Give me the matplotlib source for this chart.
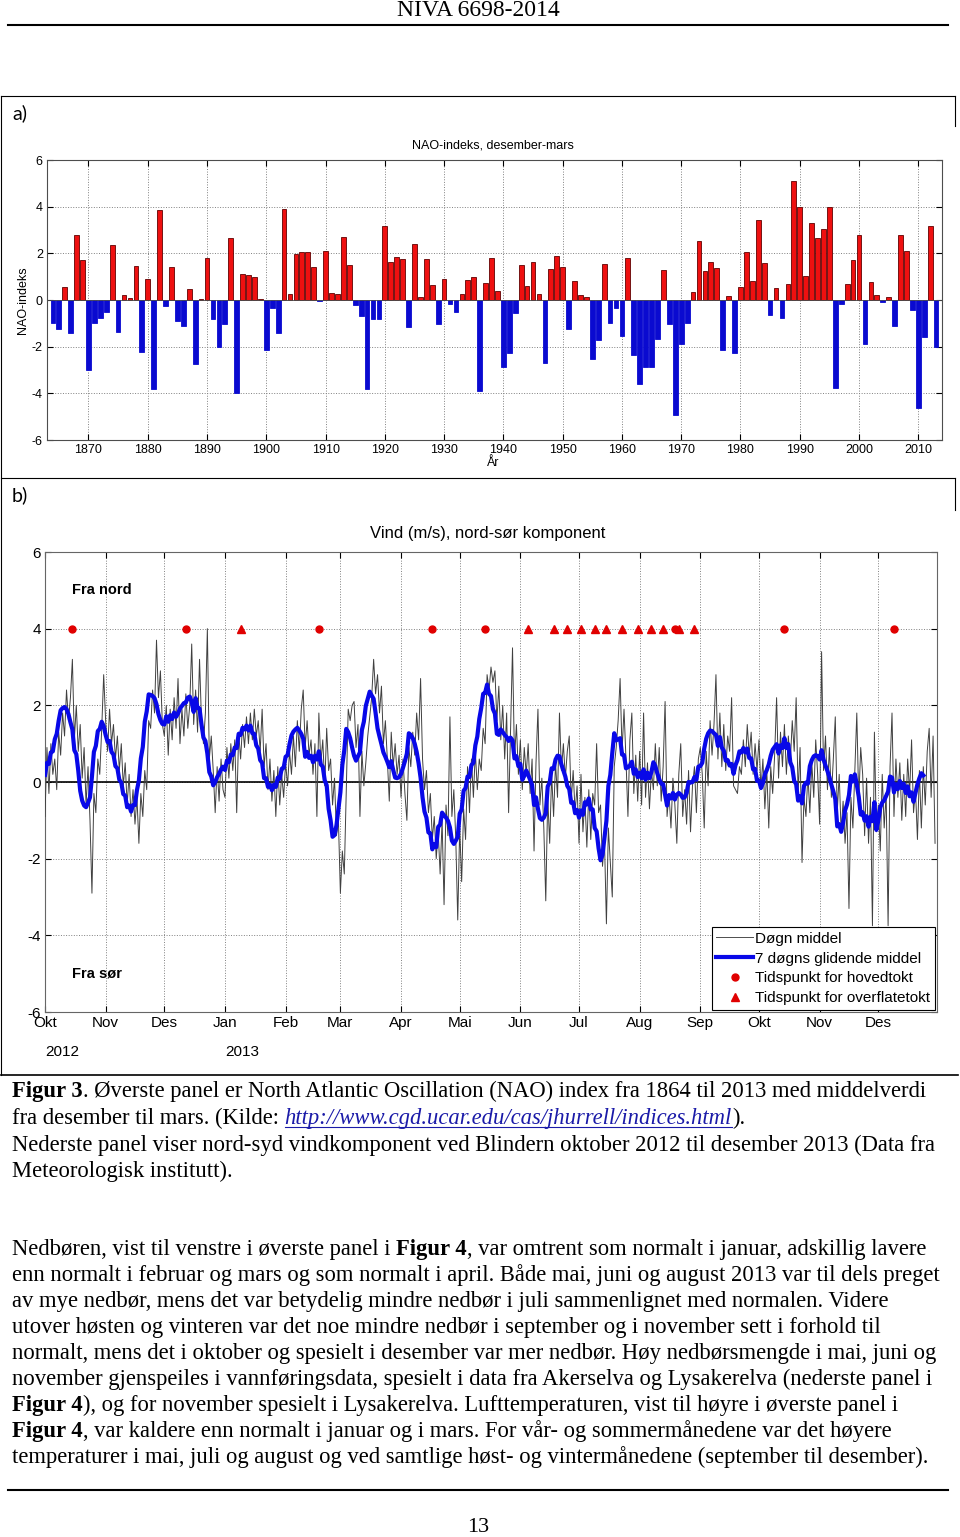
import numpy as np
import pandas as pd
import matplotlib
matplotlib.use("Agg")
import matplotlib.pyplot as plt
import matplotlib.dates as mdates
from matplotlib.lines import Line2D

W, H = 960, 1537
SANS = "Liberation Sans"
SERIF = "Liberation Serif"
plt.rcParams["font.family"] = [SANS, "DejaVu Sans"]
plt.rcParams["axes.unicode_minus"] = False

# ---------------- data: NAO index (Dec-Mar), 1864-2013 ----------
NAO_START = 1864
nao = [-1.0, -1.24, 0.54, -1.4, 2.8, 1.7,                                   # 1864-69
       -3.0, -1.0, -0.76, -0.53, 2.34, -1.37, 0.21, 0.09, 1.47, -2.24,      # 1870s
       0.9, -3.8, 3.87, -0.24, 1.41, -0.89, -1.11, 0.47, -2.74, 0.03,       # 1880s
       1.79, -0.81, -2.01, -1.04, 2.67, -3.99, 1.11, 1.09, 1.0, 0.06,       # 1890s
       -2.13, -0.33, -1.4, 3.9, 0.24, 1.99, 2.06, 2.06, 1.41, -0.03,        # 1900s
       2.11, 0.29, 0.24, 2.7, 1.49, -0.21, -0.69, -3.8, -0.81, -0.81,       # 1910s
       3.19, 1.63, 1.84, 1.74, -1.14, 2.39, 0.11, 1.74, 0.64, -1.03,        # 1920s
       0.91, -0.16, -0.53, 0.26, 0.86, 0.97, -3.9, 0.71, 1.79, 0.37,        # 1930s
       -2.86, -2.29, -0.57, 1.49, 0.61, 1.63, 0.26, -2.69, 1.34, 1.89,      # 1940s
       1.41, -1.26, 0.83, 0.2, 0.14, -2.53, -1.73, 1.53, -1.0, -0.36,       # 1950s
       -1.54, 1.8, -2.37, -3.6, -2.86, -2.89, -1.69, 1.27, -1.03, -4.93,    # 1960s
       -1.89, -0.97, 0.33, 2.53, 1.24, 1.63, 1.39, -2.14, 0.16, -2.26,      # 1970s
       0.56, 2.06, 0.8, 3.43, 1.6, -0.63, 0.51, -0.76, 0.7, 5.09,           # 1980s
       3.97, 1.03, 3.29, 2.67, 3.03, 3.97, -3.79, -0.16, 0.7, 1.7,          # 1990s
       2.8, -1.9, 0.76, 0.21, -0.07, 0.11, -1.1, 2.8, 2.1, -0.41,           # 2000s
       -4.64, -1.57, 3.19, -2.0]                                            # 2010-13
nao_years = np.arange(NAO_START, NAO_START + len(nao))
nao_xticks = list(range(1870, 2011, 10))

# ---------------- data: daily north-south wind (m/s), Blindern ----------------------
WIND_START = "2012-10-01"
wind_oct12 = [-0.9, 0.9, -0.3, 1.0, 0.2, 0.6, -0.2, 1.3, 0.7, 1.8, 1.2, 2.4, 1.6, 2.2, 3.2, 1.1,
              2.0, 0.8, 1.5, 0.1, 0.9, -0.6, 0.4, -1.0, -2.9, -0.3, -0.8, 0.6, 0.2, 1.4, 2.8]
wind_nov12 = [1.6, 0.8, 1.9, 1.0, 1.5, 0.6, 1.2, 0.3, 1.0, -0.1, 0.5, -0.6, 0.2, -0.9, -0.2,
              -1.1, -0.4, -1.6, -0.3, -0.9, 0.3, -0.2, 1.6, 1.4, 2.4, 1.8, 3.7, 2.2, 2.9, 1.5]
wind_dec12 = [1.2, 2.0, 0.7, 1.9, 1.1, 2.2, 1.4, 2.7, 1.0, 1.9, 1.2, 2.3, 1.4, 2.0, 3.6, 1.5,
              2.4, 1.3, 3.2, 1.6, 1.0, 1.8, 4.0, 0.6, 1.2, 0.3, -0.8, 0.4, -0.5, 0.6, -0.2]
wind_jan13 = [-0.4, 0.9, 0.1, 1.0, 0.3, 1.1, -0.8, 1.3, 0.6, 1.5, 0.9, 1.7, 1.0, 1.8, 1.1, 1.9,
              1.2, 1.6, 0.8, 1.9, 0.4, 1.0, -0.2, 0.6, -0.5, 0.3, -0.9, 0.4, -0.6, 0.2, -0.4]
wind_feb13 = [0.5, -0.1, 0.8, 0.2, 1.2, 0.4, 1.6, 0.8, 1.9, 2.4, 0.9, 1.6, 0.7, 1.1, 0.2, 1.0,
              -0.9, 1.8, 0.5, 1.1, -0.1, 1.4, 0.3, 0.6, -0.6, 0.1, -1.4, -1.0]
wind_mar13 = [-2.9, -1.8, -2.4, -0.3, 1.9, 1.6, 2.0, 2.1, 0.9, 1.5, -0.9, 0.8, -0.1, 0.5, 1.2,
              1.7, 2.2, 3.2, 2.3, 2.8, 1.8, 2.5, 1.0, 1.6, 0.6, -0.5, 1.3, 0.4, 1.0, 0.2, 0.7]
wind_apr13 = [-0.4, 0.6, -0.3, -1.0, 0.9, 0.4, 1.3, 0.7, 1.8, 1.1, 2.7, 0.6, -0.2, 0.3, -0.8,
              -0.3, -1.5, -0.9, -2.0, -1.3, -2.4, -1.0, -3.2, -0.6, -1.4, 1.7, -0.9, -0.2, -1.5, -3.6]
wind_may13 = [-1.2, -2.6, -0.7, -1.5, 0.4, -0.8, 0.6, -0.4, 0.8, -0.2, 0.6, 0.3, 1.4, 1.0, 2.8,
              2.4, 3.0, 2.6, 2.9, 1.6, 2.5, 1.1, 2.0, 0.6, 1.8, -0.8, 1.4, 3.5, 0.6, 1.5, 0.2]
wind_jun13 = [1.1, -0.2, 0.9, 0.2, 1.0, -0.3, 0.6, -1.8, 0.5, 1.9, -0.6, 0.1, -1.2, -3.1, -0.4,
              -1.6, 0.2, -0.9, 0.5, -0.4, 1.8, 0.3, 1.0, 0.1, 0.8, 1.2, -0.5, 0.3, -0.8, -0.1]
wind_jul13 = [-1.6, 0.2, -1.3, -0.4, -1.7, -0.2, -1.5, -0.3, -0.6, 1.0, -0.8, -0.6, -2.2, -1.5,
              -3.7, -1.2, -2.1, -3.0, 0.4, 0.9, 1.6, 2.7, 0.8, 1.9, 0.6, -0.9, 1.1, 1.8, -0.3, 0.7, -0.5]
wind_aug13 = [0.8, -0.6, 1.8, -0.4, 0.5, -0.7, 0.3, -0.2, 1.0, -0.1, 0.9, -0.5, 0.4, 2.1, -0.9,
              -0.3, -1.2, 0.1, -0.6, -1.6, 0.2, 1.0, -0.9, -0.2, -1.1, 0.3, -1.3, -0.1, 0.4, -0.8, 0.6]
wind_sep13 = [0.9, 0.2, -1.2, 0.8, -0.1, 1.6, 0.7, 1.5, 2.8, 0.6, 1.8, 0.4, 1.5, 0.3, 1.2, 0.8,
              2.2, -0.1, -0.2, -0.3, 0.4, 0.2, 1.1, 0.4, 1.5, 0.7, 1.3, 0.2, 1.0, 0.3]
wind_oct13 = [1.1, -0.2, 0.6, -0.7, 0.3, -1.2, 0.4, -0.3, 0.7, 2.2, 0.1, 1.3, 0.4, 1.5, 0.2, 1.2,
              0.5, 1.6, 0.8, 2.2, -0.3, 0.9, -2.1, -0.4, -0.9, 0.2, -0.8, 0.5, -0.4, 1.1, 0.2]
wind_nov13 = [-1.1, 3.4, 0.3, 1.2, -0.2, 0.9, -0.4, 0.6, 1.7, -0.8, 0.2, -1.3, -0.5, -1.6, -0.8,
              -3.3, -0.4, -1.2, 0.3, 1.8, -0.5, 0.9, 0.2, -1.4, 0.1, -1.6, -0.4, -3.75, 1.3, -1.3]
wind_dec13 = [-0.6, -1.8, 0.2, -1.2, -0.3, -3.75, 0.4, 1.8, -0.9, 0.6, -0.4, 0.5, -1.0, 0.2, -0.9,
              0.6, -0.3, 1.1, -0.8, -0.2, -1.5, 0.3, -1.2, 0.4, -0.6, 0.8, 1.4, -0.4, 1.2, -1.6]
wind = (wind_oct12 + wind_nov12 + wind_dec12 + wind_jan13 + wind_feb13 + wind_mar13 +
        wind_apr13 + wind_may13 + wind_jun13 + wind_jul13 + wind_aug13 + wind_sep13 +
        wind_oct13 + wind_nov13 + wind_dec13)

hovedtokt = ["2012-10-15", "2012-12-12", "2013-02-18", "2013-04-17", "2013-05-14",
             "2013-08-19", "2013-10-14", "2013-12-09"]
overflatetokt = ["2013-01-09", "2013-06-05", "2013-06-18", "2013-06-25", "2013-07-02",
                 "2013-07-09", "2013-07-15", "2013-07-23", "2013-07-31", "2013-08-07",
                 "2013-08-13", "2013-08-21", "2013-08-29"]
TOKT_Y = 4
month_labels = ["Okt", "Nov", "Des", "Jan", "Feb", "Mar", "Apr", "Mai", "Jun", "Jul",
                "Aug", "Sep", "Okt", "Nov", "Des"]
year_labels = [("2012-10-01", "2012"), ("2013-01-01", "2013")]


def fx(x):
    return x / W


def fy(y):
    return 1 - y / H


fig = plt.figure(figsize=(W / 100, H / 100), dpi=100)
fig.patch.set_facecolor("white")

# ---------------- panel a: NAO bars ------------------------------------------------
ax1 = fig.add_axes([fx(47), fy(440), (942 - 47) / W, 280 / H])
vals = np.array(nao)
face = np.where(vals >= 0, "#ee1010", "#0a0ad0")
edge = np.where(vals >= 0, "#600000", "#0a0ad0")
ax1.bar(nao_years, vals, width=0.8, color=face, edgecolor=edge, linewidth=0.6, zorder=3)
ax1.axhline(0, color="0.3", lw=0.6, zorder=4)
ax1.set_xlim(1863, 2014)
ax1.set_ylim(-6, 6)
ax1.set_yticks(range(-6, 7, 2))
ax1.set_xticks(nao_xticks)
ax1.set_axisbelow(True)
ax1.grid(True, ls=":", color="0.5", lw=0.7)
ax1.tick_params(direction="in", top=True, right=True, length=4, labelsize=9, pad=3)
for sp in ax1.spines.values():
    sp.set_color("0.3")
    sp.set_linewidth(0.8)
fig.text(fx(493), fy(146), "NAO-indeks, desember-mars", ha="center", va="center", fontsize=9)
fig.text(fx(23), fy(300), "NAO-indeks", ha="center", va="center", rotation=90, fontsize=9)
fig.text(fx(493), fy(463), "År", ha="center", va="center", fontsize=9)

# ---------------- panel b: wind --------------------------------------------------
ax2 = fig.add_axes([fx(45), fy(1012), (937 - 45) / W, 460 / H])
dates = pd.date_range(WIND_START, periods=len(wind), freq="D")
s = pd.Series(wind, index=dates)
ma7 = s.rolling(7).mean().shift(-6)
ax2.plot(dates, s.values, color="0.25", lw=0.7, zorder=3)
ax2.plot(dates, ma7.values, color="#0808e8", lw=3.0, zorder=4)
ax2.axhline(0, color="k", lw=1.2, zorder=2)
ax2.plot(pd.to_datetime(hovedtokt), [TOKT_Y] * len(hovedtokt), "o", color="#e00000",
         ms=5, ls="none", zorder=5)
ax2.plot(pd.to_datetime(overflatetokt), [TOKT_Y] * len(overflatetokt), "^", color="#e00000",
         ms=5.5, ls="none", zorder=5)
ax2.set_xlim(pd.Timestamp("2012-10-01"), pd.Timestamp("2013-12-31"))
ax2.set_ylim(-6, 6)
ax2.set_yticks(range(-6, 7, 2))
ax2.set_xticks(pd.date_range("2012-10-01", "2013-12-01", freq="MS"))
ax2.set_xticklabels(month_labels)
ax2.grid(True, ls=":", color="0.5", lw=0.7)
ax2.tick_params(direction="in", top=True, right=True, length=4, labelsize=11, pad=3)
for sp in ax2.spines.values():
    sp.set_color("0.4")
    sp.set_linewidth(0.8)
for d, lab in year_labels:
    ax2.text(mdates.date2num(pd.Timestamp(d)), -0.087, lab, transform=ax2.get_xaxis_transform(),
             ha="left", va="center", fontsize=11)
ax2.text(mdates.date2num(pd.Timestamp("2012-10-15")), 5.0, "Fra nord", fontweight="bold",
         fontsize=10.5, va="center", ha="left")
ax2.text(mdates.date2num(pd.Timestamp("2012-10-15")), -5.0, "Fra sør", fontweight="bold",
         fontsize=10.5, va="center", ha="left")
fig.text(fx(488), fy(534), "Vind (m/s), nord-sør komponent", ha="center", va="center", fontsize=12)

handles = [Line2D([], [], color="0.3", lw=0.7),
           Line2D([], [], color="#0808e8", lw=3.0),
           Line2D([], [], color="#e00000", marker="o", ms=5, ls="none"),
           Line2D([], [], color="#e00000", marker="^", ms=5.5, ls="none")]
labels = ["Døgn middel", "7 døgns glidende middel", "Tidspunkt for hovedtokt",
          "Tidspunkt for overflatetokt"]
leg = ax2.legend(handles, labels, loc="lower right", fontsize=11, frameon=True, fancybox=False,
                 edgecolor="k", framealpha=1, borderaxespad=0.15, handlelength=2.4,
                 labelspacing=0.38, borderpad=0.3, handletextpad=0.15)
leg.get_frame().set_linewidth(0.8)

# ---------------- page furniture --------------------------------------------------
def hline(y, x0, x1, lw=1.0, color="k"):
    fig.add_artist(Line2D([fx(x0), fx(x1)], [fy(y), fy(y)], color=color, lw=lw))


def vline(x, y0, y1, lw=1.0):
    fig.add_artist(Line2D([fx(x), fx(x)], [fy(y0), fy(y1)], color="k", lw=lw))


fig.text(fx(478), fy(11), "NIVA 6698-2014", ha="center", va="center", family=SERIF, fontsize=17)
hline(25, 8, 948, 1.5)
hline(96, 1, 955, 0.8)
vline(955, 96, 126, 0.8)
vline(1, 96, 1075, 0.8)
hline(478, 1, 955, 0.8)
vline(955, 478, 510, 0.8)
hline(1075, 1, 958, 1.2)
fig.text(fx(12), fy(113), "a)", ha="left", va="center", fontsize=14, family="Lato")
fig.text(fx(12), fy(495), "b)", ha="left", va="center", fontsize=14, family="Lato")

FS = 16.3
URL_COLOR = "#1a1aa8"
renderer = fig.canvas.get_renderer()
probe1 = fig.text(0, 0, "x x", family=SERIF, fontsize=FS)
probe2 = fig.text(0, 0, "xx", family=SERIF, fontsize=FS)
SPACE = probe1.get_window_extent(renderer).width - probe2.get_window_extent(renderer).width
probe1.remove()
probe2.remove()


def put_line(y, parts, x=12):
    for txt, style in parts:
        trail = txt.endswith(" ")
        t = fig.text(fx(x), fy(y), txt.rstrip(), family=SERIF, fontsize=FS, va="baseline",
                     ha="left", **style)
        w = t.get_window_extent(renderer).width
        if style.get("color") == URL_COLOR:
            hline(y + 3, x, x + w, 0.8, URL_COLOR)
        x += w + (SPACE if trail else 0)


B = {"fontweight": "bold"}
N = {}
URL = {"style": "italic", "color": URL_COLOR}
put_line(1097, [("Figur 3", B), (". Øverste panel er North Atlantic Oscillation (NAO) index fra 1864 til 2013 med middelverdi", N)])
put_line(1124, [("fra desember til mars. (Kilde: ", N), ("http://www.cgd.ucar.edu/cas/jhurrell/indices.html", URL), (").", N)])
put_line(1151, [("Nederste panel viser nord-syd vindkomponent ved Blindern oktober 2012 til desember 2013 (Data fra", N)])
put_line(1177, [("Meteorologisk institutt).", N)])

para = [
    [("Nedbøren, vist til venstre i øverste panel i ", N), ("Figur 4", B), (", var omtrent som normalt i januar, adskillig lavere", N)],
    [("enn normalt i februar og mars og som normalt i april. Både mai, juni og august 2013 var til dels preget", N)],
    [("av mye nedbør, mens det var betydelig mindre nedbør i juli sammenlignet med normalen. Videre", N)],
    [("utover høsten og vinteren var det noe mindre nedbør i september og i november sett i forhold til", N)],
    [("normalt, mens det i oktober og spesielt i desember var mer nedbør. Høy nedbørsmengde i mai, juni og", N)],
    [("november gjenspeiles i vannføringsdata, spesielt i data fra Akerselva og Lysakerelva (nederste panel i", N)],
    [("Figur 4", B), ("), og for november spesielt i Lysakerelva. Lufttemperaturen, vist til høyre i øverste panel i", N)],
    [("Figur 4", B), (", var kaldere enn normalt i januar og i mars. For vår- og sommermånedene var det høyere", N)],
    [("temperaturer i mai, juli og august og ved samtlige høst- og vintermånedene (september til desember).", N)],
]
for i, parts in enumerate(para):
    put_line(1255 + 26 * i, parts)

hline(1490, 8, 948, 1.5)
fig.text(fx(478), fy(1527), "13", ha="center", va="center", family=SERIF, fontsize=16)

fig.savefig("out.png", dpi=100)
